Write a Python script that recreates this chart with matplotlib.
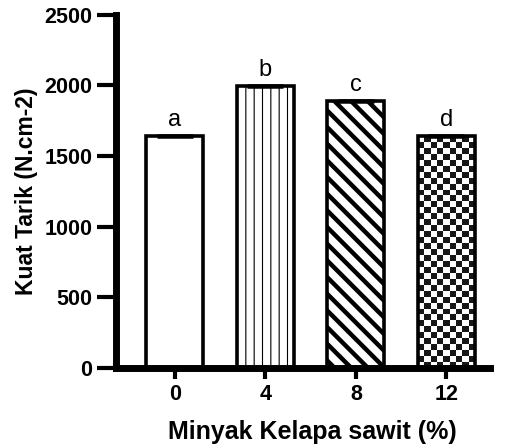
import numpy as np
import matplotlib
matplotlib.use("Agg")
import matplotlib.pyplot as plt

# data
kadar = ["0", "4", "8", "12"]
kuat_tarik = [1640, 1995, 1890, 1640]
sd = [8, 8, 8, 8]
huruf = ["a", "b", "c", "d"]

plt.rcParams["font.family"] = ["Liberation Sans", "DejaVu Sans"]
plt.rcParams["hatch.linewidth"] = 0.8

fig = plt.figure(figsize=(5.07, 4.48), dpi=100)
ax = fig.add_axes([0.229, 0.179, 0.737, 0.788])

x = np.arange(len(kadar))
bars = ax.bar(x, kuat_tarik, width=0.63, color="white", edgecolor="black",
              linewidth=2.6, zorder=2)
ax.errorbar(x, kuat_tarik, yerr=sd, fmt="none", ecolor="black",
            elinewidth=1.5, capsize=13, capthick=1.8, zorder=3)

# arsiran
bars[1].set_hatch("||")
bars[2].set_hatch("\\\\")
if hasattr(bars[2], "set_hatch_linewidth"):
    bars[1].set_hatch_linewidth(0.8)
    bars[2].set_hatch_linewidth(3.2)

ax.set_ylim(0, 2500)
ax.set_xlim(-0.65, 3.48)

# papan catur untuk batang terakhir
b = bars[3]
sel_px = 6.0
px_x = ax.transData.transform((1, 0))[0] - ax.transData.transform((0, 0))[0]
px_y = ax.transData.transform((0, 1))[1] - ax.transData.transform((0, 0))[1]
nx = int(round(b.get_width() * px_x / sel_px))
ny = int(round(b.get_height() * px_y / sel_px))
papan = (np.add.outer(np.arange(ny), np.arange(nx)) % 2).astype(float)
im = ax.imshow(papan, cmap="gray_r", vmin=0, vmax=1.1, interpolation="nearest",
               extent=(b.get_x(), b.get_x() + b.get_width(), 0, b.get_height()),
               aspect="auto", zorder=1.5)
im.set_clip_path(b)
b.set_facecolor("none")

for xi, val, e, h in zip(x, kuat_tarik, sd, huruf):
    ax.annotate(h, xy=(xi, val + e), xytext=(0, 3), textcoords="offset points",
                ha="center", va="bottom", fontsize=17)

ax.set_xticks(x)
ax.set_xticklabels(kadar)
ax.set_yticks([0, 500, 1000, 1500, 2000, 2500])

for s in ["top", "right"]:
    ax.spines[s].set_visible(False)
for s in ["left", "bottom"]:
    ax.spines[s].set_linewidth(5)

ax.tick_params(axis="y", length=14, width=3, pad=3, labelsize=15.5)
ax.tick_params(axis="x", length=8, width=3, pad=4, labelsize=15.5)
for lab in ax.get_xticklabels() + ax.get_yticklabels():
    lab.set_fontweight("bold")

ax.set_ylabel("Kuat Tarik (N.cm-2)", fontsize=16.5, fontweight="bold", labelpad=5)
ax.set_xlabel("Minyak Kelapa sawit (%)", fontsize=18, fontweight="bold", labelpad=10)
ax.xaxis.set_label_coords(0.524, -0.148)

fig.savefig("out.png", dpi=100)
